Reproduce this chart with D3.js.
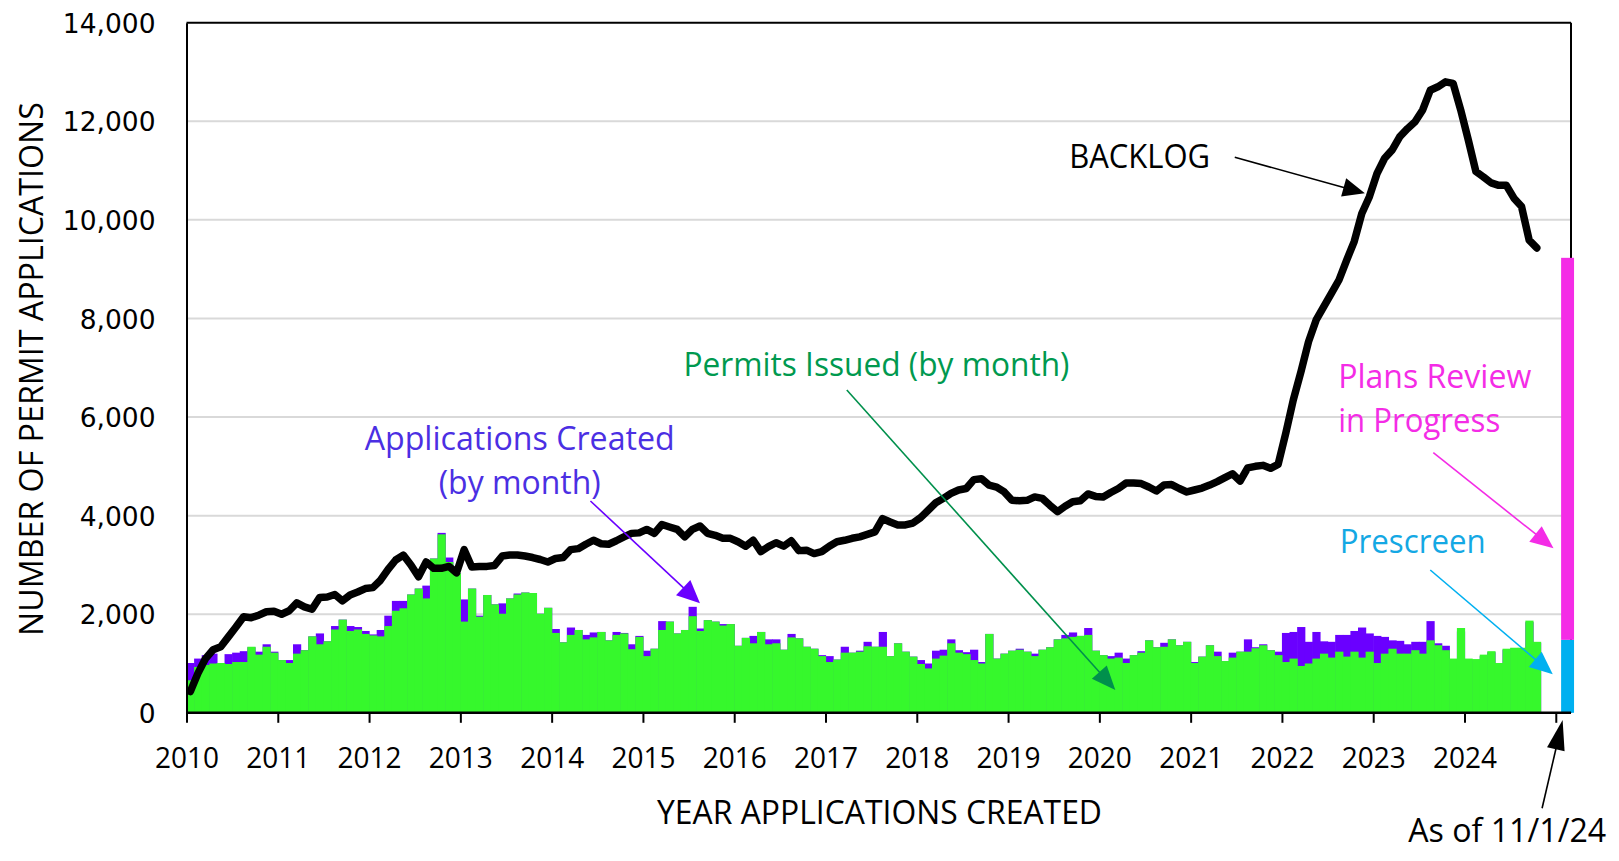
<!DOCTYPE html>
<html><head><meta charset="utf-8">
<script src="https://cdn.jsdelivr.net/npm/d3@7"></script>
<style>body{margin:0;background:#fff;} svg{display:block;}</style>
</head><body>
<svg id="chart" width="1619" height="861"></svg>
<script>
// ---------------- DATA ----------------
const yearLabels = ["2010","2011","2012","2013","2014","2015","2016","2017","2018","2019","2020","2021","2022","2023","2024"];
const yTicks = [0,2000,4000,6000,8000,10000,12000,14000];

// Monthly values, Jan 2010 .. Oct 2024
const backlog = [
 430,800,1100,1280,1340,1540,1740,1950,1930,1980,2050,2060,
 2000,2070,2230,2150,2100,2340,2350,2400,2270,2390,2450,2520,
 2540,2690,2910,3100,3200,3000,2760,3060,2930,2930,2970,2840,
 3310,2960,2970,2970,2990,3180,3200,3200,3180,3150,3110,3060,
 3130,3150,3310,3330,3420,3500,3430,3420,3490,3570,3640,3650,
 3720,3640,3820,3770,3720,3570,3720,3790,3640,3600,3540,3540,
 3470,3380,3500,3270,3370,3450,3380,3490,3290,3300,3230,3270,
 3380,3470,3500,3540,3570,3620,3670,3940,3870,3810,3810,3850,
 3960,4110,4260,4350,4450,4520,4550,4730,4750,4620,4580,4480,
 4310,4300,4310,4380,4350,4210,4080,4190,4280,4300,4440,4390,
 4380,4470,4550,4660,4660,4650,4580,4500,4620,4630,4550,4480,
 4520,4560,4620,4690,4770,4850,4700,4970,5000,5020,4960,5040,
 5670,6350,6920,7530,7970,8240,8510,8780,9180,9560,10130,10470,
 10940,11250,11420,11690,11850,11990,12230,12630,12700,12800,12770,12230,
 11620,10980,10870,10750,10700,10700,10440,10270,9590,9430
];
const applications = [
 1010,1100,1170,1200,1010,1190,1220,1250,1330,1240,1390,1240,
 1070,1070,1390,1270,1550,1610,1450,1760,1890,1760,1740,1660,
 1590,1680,1970,2270,2270,2400,2520,2580,3130,3650,3150,2830,
 2300,2520,1970,2390,2200,2220,2320,2420,2440,2430,2010,2130,
 1700,1430,1730,1680,1580,1630,1640,1470,1640,1620,1390,1560,
 1260,1300,1860,1850,1610,1680,2150,1710,1880,1850,1800,1800,
 1360,1520,1560,1640,1490,1490,1280,1600,1510,1340,1300,1170,
 1150,1080,1340,1220,1260,1440,1340,1640,1150,1410,1240,1140,
 1070,1000,1260,1280,1490,1270,1230,1280,1030,1600,1100,1200,
 1260,1300,1240,1200,1280,1330,1490,1580,1630,1560,1720,1260,
 1170,1150,1220,1100,1170,1250,1470,1330,1420,1490,1370,1440,
 1030,1140,1370,1240,1050,1220,1240,1490,1330,1390,1270,1240,
 1620,1640,1740,1440,1640,1450,1440,1580,1580,1660,1730,1610,
 1560,1540,1470,1460,1390,1440,1440,1860,1410,1360,1080,1650,
 1080,1060,1150,1230,1000,1280,1300,1290,1840,1420
];
const permits = [
 660,930,970,1000,1010,990,1030,1030,1340,1180,1340,1220,
 1070,1010,1200,1270,1550,1390,1450,1690,1890,1660,1690,1600,
 1570,1550,1760,2070,2120,2400,2520,2320,3130,3620,3060,2830,
 1850,2520,1950,2390,2200,2010,2320,2400,2440,2430,2010,2130,
 1620,1430,1580,1680,1490,1530,1640,1470,1580,1610,1290,1540,
 1150,1300,1680,1850,1610,1680,1960,1660,1880,1850,1770,1800,
 1360,1520,1410,1640,1390,1410,1280,1530,1510,1340,1300,1150,
 1030,1080,1220,1220,1240,1350,1340,1340,1150,1410,1240,1140,
 990,900,1100,1160,1410,1220,1190,1070,1000,1600,1100,1200,
 1260,1280,1240,1150,1280,1330,1490,1510,1540,1560,1580,1260,
 1170,1100,1120,1010,1170,1220,1470,1330,1340,1490,1370,1440,
 1010,1140,1370,1150,1050,1120,1240,1240,1310,1370,1270,1170,
 1030,1100,950,1000,1100,1200,1120,1240,1140,1240,1120,1240,
 1010,1200,1300,1200,1200,1270,1200,1470,1370,1270,1100,1720,
 1100,1090,1180,1250,1010,1300,1320,1320,1870,1440
];
// Snapshot as of 11/1/24
const snapshotKeys = ["prescreen","plansReview"];
const snapshotValues = {prescreen: 1480, plansReview: 7750};

// ---------------- LAYOUT ----------------
const W = 1619, H = 861;
const C = {purple:"#6A00FF", green:"#36F82C", black:"#000", grid:"#D9D9D9",
  cyan:"#00B0F0", pink:"#F42CE6", permitText:"#00994F", appText:"#4B2FE3", cyanText:"#14A8E4"};
const FONT = "'Liberation Sans Narrow','Open Sans','Noto Sans',sans-serif";

const svg = d3.select("#chart");
svg.append("rect").attr("width",W).attr("height",H).attr("fill","#fff");

const nSlots = 182;
const x = d3.scaleLinear().domain([0, nSlots]).range([186.5, 1571]);
const y = d3.scaleLinear().domain([0, 14000]).range([712.8, 22.7]);
const bw = x(1) - x(0);

// gridlines
svg.append("g").selectAll("line").data(yTicks.filter(v => v > 0 && v < 14000)).join("line")
  .attr("x1", x(0)).attr("x2", x(nSlots)).attr("y1", d => y(d)).attr("y2", d => y(d))
  .attr("stroke", C.grid).attr("stroke-width", 2);

// bars: applications (behind), permits (front)
svg.append("g").selectAll("rect").data(applications).join("rect")
  .attr("x", (d,i) => x(i)).attr("width", bw + 0.6)
  .attr("y", d => y(d)).attr("height", d => y(0) - y(d)).attr("fill", C.purple);
svg.append("g").selectAll("rect").data(permits).join("rect")
  .attr("x", (d,i) => x(i)).attr("width", bw + 0.6)
  .attr("y", d => y(d)).attr("height", d => y(0) - y(d)).attr("fill", C.green);

// frame (top and right border)
svg.append("line").attr("x1", x(0)).attr("x2", x(nSlots)).attr("y1", y(14000)).attr("y2", y(14000))
  .attr("stroke", C.black).attr("stroke-width", 2);
svg.append("line").attr("x1", x(nSlots)).attr("x2", x(nSlots)).attr("y1", y(14000)).attr("y2", y(0))
  .attr("stroke", C.black).attr("stroke-width", 2);

// snapshot stacked bar
const stacked = d3.stack().keys(snapshotKeys)([snapshotValues]);
const snapColors = {prescreen: C.cyan, plansReview: C.pink};
svg.append("g").selectAll("rect").data(stacked).join("rect")
  .attr("x", x(180.7)).attr("width", x(182.4) - x(180.7))
  .attr("y", d => y(d[0][1])).attr("height", d => y(d[0][0]) - y(d[0][1]))
  .attr("fill", d => snapColors[d.key]);

// backlog line
svg.append("path").datum(backlog)
  .attr("d", d3.line().x((d,i) => x(i + 0.5)).y(d => y(d)))
  .attr("fill", "none").attr("stroke", C.black).attr("stroke-width", 7.5)
  .attr("stroke-linejoin", "round").attr("stroke-linecap", "round");

// y axis
const yAxis = svg.append("g").attr("transform", `translate(${x(0)},0)`)
  .call(d3.axisLeft(y).tickValues(yTicks).tickSize(0).tickPadding(31).tickFormat(d3.format(",")));
yAxis.select(".domain").attr("stroke", C.black).attr("stroke-width", 2);
yAxis.selectAll("text").attr("font-family", "'DejaVu Sans',Verdana,sans-serif")
  .attr("font-size", 26.5).attr("fill", C.black).attr("dy", "0.36em");

// x axis
const xAxis = svg.append("g").attr("transform", `translate(0,${y(0)})`)
  .call(d3.axisBottom(x).tickValues(d3.range(0, 181, 12)).tickSize(10).tickPadding(25)
    .tickFormat((d,i) => yearLabels[i] || ""));
xAxis.select(".domain").attr("stroke", C.black).attr("stroke-width", 2.5).attr("d", `M${x(0)},0H${x(nSlots)}`);
xAxis.selectAll(".tick line").attr("stroke", C.black).attr("stroke-width", 2);
xAxis.selectAll("text").attr("font-family", FONT)
  .attr("font-size", 29).attr("fill", C.black)
  .attr("textLength", 64).attr("lengthAdjust", "spacingAndGlyphs");

// axis titles
svg.append("text").attr("transform", "translate(43.3,369) rotate(-90)")
  .attr("text-anchor", "middle").attr("font-family", FONT).attr("font-size", 32.5)
  .attr("textLength", 534).attr("lengthAdjust", "spacingAndGlyphs")
  .text("NUMBER OF PERMIT APPLICATIONS");
svg.append("text").attr("x", 879.5).attr("y", 824)
  .attr("text-anchor", "middle").attr("font-family", FONT).attr("font-size", 32.5)
  .attr("textLength", 445).attr("lengthAdjust", "spacingAndGlyphs")
  .text("YEAR APPLICATIONS CREATED");

// annotations (anchored in data coordinates: [month slot, value])
const labels = [
  {t:"BACKLOG", at:[125.3, 11047], anchor:"middle", w:141, c:C.black},
  {t:"Permits Issued (by month)", at:[90.7, 6823], anchor:"middle", w:386, c:C.permitText},
  {t:"Applications Created", at:[43.8, 5332], anchor:"middle", w:310, c:C.appText},
  {t:"(by month)", at:[43.8, 4439], anchor:"middle", w:162, c:C.appText},
  {t:"Plans Review", at:[151.4, 6583], anchor:"start", w:193, c:C.pink},
  {t:"in Progress", at:[151.4, 5703], anchor:"start", w:162, c:C.pink},
  {t:"Prescreen", at:[151.6, 3236], anchor:"start", w:146, c:C.cyanText},
  {t:"As of 11/1/24", at:[160.6, -2615], anchor:"start", w:198, c:C.black}
];
svg.append("g").selectAll("text").data(labels).join("text")
  .attr("x", d => x(d.at[0])).attr("y", d => y(d.at[1]))
  .attr("text-anchor", d => d.anchor).attr("fill", d => d.c)
  .attr("font-family", FONT).attr("font-size", 32.5)
  .attr("textLength", d => d.w).attr("lengthAdjust", "spacingAndGlyphs")
  .text(d => d.t);

const arrows = [
  {from:[137.8, 11270], to:[154.9, 10540], c:C.black, hl:22, hw:19},
  {from:[86.8, 6549], to:[122.1, 463], c:"#00904C", hl:24, hw:20},
  {from:[53.1, 4297], to:[67.5, 2222], c:C.purple, hl:23, hw:21},
  {from:[163.9, 5277], to:[179.7, 3337], c:C.pink, hl:23, hw:20},
  {from:[163.5, 2897], to:[179.6, 781], c:C.cyan, hl:23, hw:20},
  {from:[178.2, -1937], to:[180.9, -146], c:C.black, hl:30, hw:18}
];
const ag = svg.append("g");
arrows.forEach(a => {
  const x1 = x(a.from[0]), y1 = y(a.from[1]), x2 = x(a.to[0]), y2 = y(a.to[1]);
  const dx = x2 - x1, dy = y2 - y1, L = Math.hypot(dx, dy), ux = dx / L, uy = dy / L;
  const bx = x2 - ux * a.hl, by = y2 - uy * a.hl;
  ag.append("line").attr("x1", x1).attr("y1", y1).attr("x2", bx + ux * 2).attr("y2", by + uy * 2)
    .attr("stroke", a.c).attr("stroke-width", 1.6);
  ag.append("polygon")
    .attr("points", [[x2, y2], [bx - uy * a.hw / 2, by + ux * a.hw / 2], [bx + uy * a.hw / 2, by - ux * a.hw / 2]].map(p => p.join(",")).join(" "))
    .attr("fill", a.c);
});
</script>
</body></html>
